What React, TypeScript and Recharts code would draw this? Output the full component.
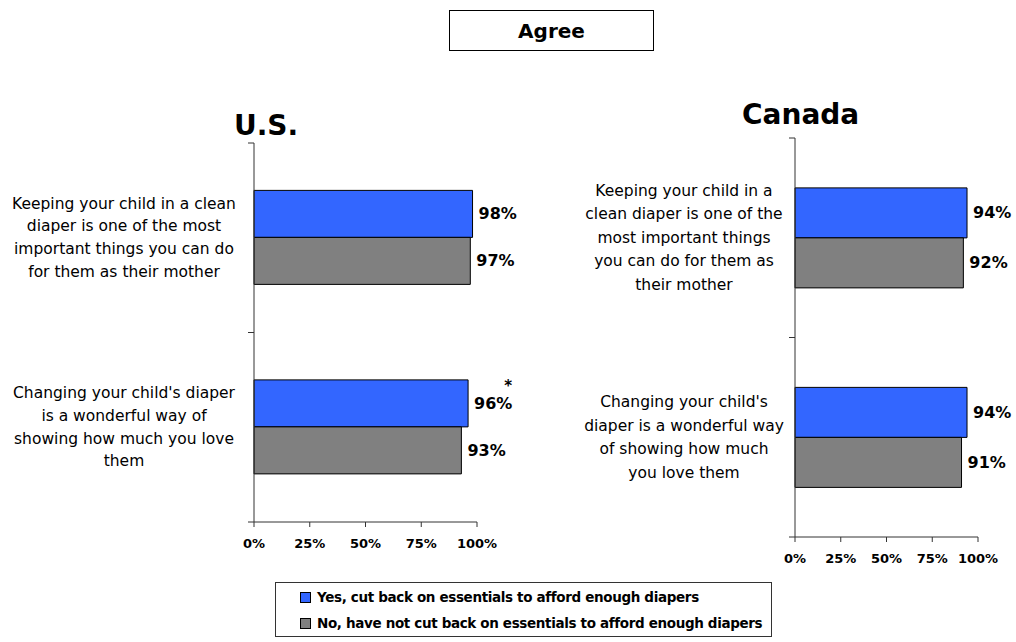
import React from 'react';
import { BarChart, Bar, XAxis, YAxis, LabelList } from 'recharts';

const seriesNames = [
  'Yes, cut back on essentials to afford enough diapers',
  'No, have not cut back on essentials to afford enough diapers',
];
const seriesColors = ['#3366FF', '#808080'];

const usLines = [
  ['Keeping your child in a clean', 'diaper is one of the most', 'important things you can do', 'for them as their mother'],
  ["Changing your child's diaper", 'is a wonderful way of', 'showing how much you love', 'them'],
];
const usYes = [98, 96];
const usNo = [97, 93];
const usYesMark = ['', '*'];

const caLines = [
  ['Keeping your child in a', 'clean diaper is one of the', 'most important things', 'you can do for them as', 'their mother'],
  ["Changing your child's", 'diaper is a wonderful way', 'of showing how much', 'you love them'],
];
const caYes = [94, 94];
const caNo = [92, 91];
const caYesMark = ['', ''];

const xTicks = [0, 25, 50, 75, 100];

const FONT = '"DejaVu Sans", Verdana, sans-serif';

const buildRows = (lines: string[][], yes: number[], no: number[], marks: string[]) =>
  lines.map((l, i) => ({ cat: 'c' + i, lines: l, yes: yes[i], no: no[i], mark: marks[i] }));

const CategoryTick = ({ x, y, payload, rows, shift, lineHeight, count }: any) => {
  const row = rows[payload.index];
  const lines: string[] = row ? row.lines : [];
  const off = payload.offset ?? 95;
  const start = y - ((lines.length - 1) * lineHeight) / 2;
  return (
    <g>
      <line x1={x - 6} x2={x} y1={y - off} y2={y - off} stroke="#333" />
      {payload.index === count - 1 && <line x1={x - 6} x2={x} y1={y + off} y2={y + off} stroke="#333" />}
      <text x={x - shift} y={start} textAnchor="middle" fontSize={15.5} fill="#000" fontFamily={FONT}>
        {lines.map((t, i) => (
          <tspan key={i} x={x - shift} y={start + i * lineHeight} dominantBaseline="central">
            {t}
          </tspan>
        ))}
      </text>
    </g>
  );
};

const PercentTick = ({ x, y, payload }: any) => (
  <text x={x} y={y + 16} textAnchor="middle" fontSize={13} fontWeight="bold" fill="#000" fontFamily={FONT}>
    {payload.value + '%'}
  </text>
);

const ValueLabel = ({ x, y, width, height, value, index, marks }: any) => {
  const tx = x + width + 6;
  const ty = y + height / 2;
  const mark = marks ? marks[index] : '';
  return (
    <g>
      <text x={tx} y={ty} dominantBaseline="central" fontSize={16} fontWeight="bold" fill="#000" fontFamily={FONT}>
        {value + '%'}
      </text>
      {mark && (
        <text x={tx + 34} y={ty - 17} fontSize={15} fontWeight="bold" fill="#000" fontFamily={FONT} textAnchor="middle" dominantBaseline="central">
          {mark}
        </text>
      )}
    </g>
  );
};

interface PanelProps {
  rows: any[];
  marks: string[];
  width: number;
  height: number;
  yWidth: number;
  marginRight: number;
  shift: number;
  lineHeight: number;
}

const Panel: React.FC<PanelProps> = ({ rows, marks, width, height, yWidth, marginRight, shift, lineHeight }) => (
  <BarChart
    width={width}
    height={height}
    data={rows}
    layout="vertical"
    margin={{ top: 13, right: marginRight, bottom: 0, left: 0 }}
    barCategoryGap="25%"
    barGap={0}
  >
    <XAxis
      type="number"
      domain={[0, 100]}
      ticks={xTicks}
      stroke="#333"
      tickSize={5}
      tickMargin={5}
      height={40}
      interval={0}
      tick={<PercentTick />}
    />
    <YAxis
      type="category"
      dataKey="cat"
      width={yWidth}
      stroke="#333"
      tickLine={false}
      tickSize={0}
      tickMargin={0}
      tick={<CategoryTick rows={rows} shift={shift} lineHeight={lineHeight} count={rows.length} />}
    />
    <Bar dataKey="yes" name={seriesNames[0]} fill={seriesColors[0]} stroke="#000" strokeWidth={1} isAnimationActive={false}>
      <LabelList dataKey="yes" content={<ValueLabel marks={marks} />} />
    </Bar>
    <Bar dataKey="no" name={seriesNames[1]} fill={seriesColors[1]} stroke="#000" strokeWidth={1} isAnimationActive={false}>
      <LabelList dataKey="no" content={<ValueLabel />} />
    </Bar>
  </BarChart>
);

const App: React.FC = () => {
  const usRows = buildRows(usLines, usYes, usNo, usYesMark);
  const caRows = buildRows(caLines, caYes, caNo, caYesMark);
  return (
    <div style={{ position: 'absolute', left: 0, top: 0, width: 1016, height: 642, background: '#fff', fontFamily: FONT }}>
      <div
        style={{
          position: 'absolute', left: 449, top: 10, width: 203, height: 39, border: '1px solid #000',
          display: 'flex', alignItems: 'center', justifyContent: 'center', fontWeight: 'bold', fontSize: 20,
        }}
      >
        Agree
      </div>
      <div style={{ position: 'absolute', left: 234, top: 108, fontWeight: 'bold', fontSize: 28, lineHeight: '36px' }}>U.S.</div>
      <div style={{ position: 'absolute', left: 742, top: 97, fontWeight: 'bold', fontSize: 28, lineHeight: '36px' }}>Canada</div>

      <div style={{ position: 'absolute', left: 0, top: 130 }}>
        <Panel rows={usRows} marks={usYesMark} width={530} height={432} yWidth={254} marginRight={53} shift={130} lineHeight={22.7} />
      </div>
      <div style={{ position: 'absolute', left: 540, top: 125 }}>
        <Panel rows={caRows} marks={caYesMark} width={478} height={452} yWidth={255} marginRight={40} shift={111} lineHeight={23.5} />
      </div>

      <div
        style={{
          position: 'absolute', left: 275, top: 582, width: 497, height: 55, border: '1px solid #333',
          fontWeight: 'bold', fontSize: 13.5, letterSpacing: -0.35, paddingLeft: 24, boxSizing: 'border-box', whiteSpace: 'nowrap',
        }}
      >
        {seriesNames.map((n, i) => (
          <div key={n} style={{ display: 'flex', alignItems: 'center', height: 26, marginTop: i === 0 ? 1 : 0 }}>
            <span style={{ display: 'inline-block', width: 9, height: 9, background: seriesColors[i], border: '1px solid #000', marginRight: 6 }} />
            {n}
          </div>
        ))}
      </div>
    </div>
  );
};

export default App;
